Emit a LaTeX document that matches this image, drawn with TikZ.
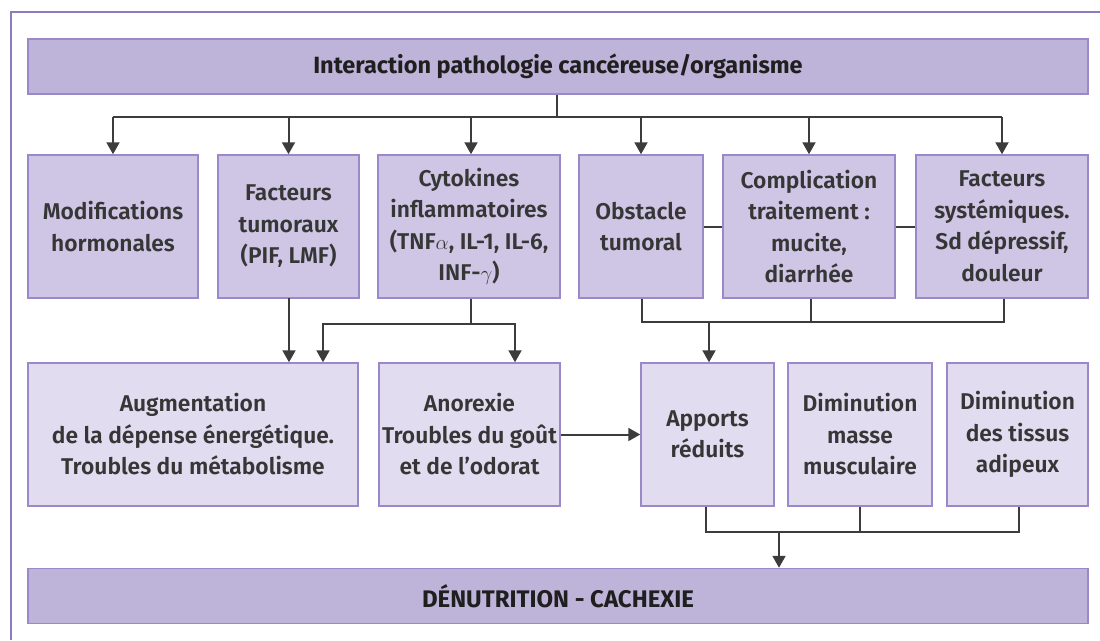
\documentclass[tikz,border=0pt]{standalone}
\usepackage{fontspec}
\setmainfont{Fira Sans}[BoldFont={Fira Sans SemiBold}]
\newfontfamily\headfont{Fira Sans Bold}
\usetikzlibrary{arrows.meta}
\definecolor{frameC}{HTML}{8C7BBF}
\definecolor{boxB}{HTML}{9A88C8}
\definecolor{headF}{HTML}{BEB3D8}
\definecolor{rowoneF}{HTML}{CEC6E4}
\definecolor{rowtwoF}{HTML}{E1DCEF}
\definecolor{txtC}{HTML}{363636}
\definecolor{lineC}{HTML}{3C3C3C}
\tikzset{
  box/.style={draw=boxB, line width=1.5pt, inner sep=0pt, align=center,
    text=txtC, font=\bfseries\fontsize{22.8}{31.5}\selectfont},
  headbox/.style={box, fill=headF, minimum width=1060pt, minimum height=55pt,
    font=\headfont\fontsize{23.5}{25}\selectfont, text=black!88},
  rowone/.style={box, fill=rowoneF, minimum height=143pt},
  rowtwo/.style={box, fill=rowtwoF, minimum height=143pt},
  con/.style={draw=lineC, line width=2pt},
  arr/.style={con, -{Triangle[width=13pt,length=12pt]}},
}
\begin{document}
\begin{tikzpicture}[x=1pt,y=-1pt]
\useasboundingbox (0,0) rectangle (1100,640);
\fill[white] (0,0) rectangle (1100,640);
\draw[frameC, line width=2pt] (10.5,640) -- (10.5,12) -- (1100,12);

% header
\node[headbox] (top) at (558,66.5) {Interaction pathologie cancéreuse/organisme};
\node[headbox, font=\headfont\fontsize{24}{25}\selectfont] (bot) at (558,596) {DÉNUTRITION - CACHEXIE};

% row 1
\node[rowone, minimum width=170pt] (m1) at (113,226.5) {Modifications\\hormonales};
\node[rowone, minimum width=141pt] (m2) at (288.5,226.5) {Facteurs\\tumoraux\\(PIF, LMF)};
\node[rowone, minimum width=182pt] (m3) at (469,226.5) {Cytokines\\inflammatoires\\(TNF$\alpha$, IL-1, IL-6,\\INF-$\gamma$)};
\node[rowone, minimum width=124pt] (m4) at (641,226.5) {Obstacle\\tumoral};
\node[rowone, minimum width=172pt] (m5) at (809,226.5) {Complication\\traitement :\\mucite,\\diarrhée};
\node[rowone, minimum width=172pt] (m6) at (1002,226.5) {Facteurs\\systémiques.\\Sd dépressif,\\douleur};

% row 2
\node[rowtwo, minimum width=330pt] (b1) at (193,434.5) {Augmentation\\de la dépense énergétique.\\Troubles du métabolisme};
\node[rowtwo, minimum width=181pt] (b2) at (469.5,434.5) {Anorexie\\Troubles du goût\\et de l’odorat};
\node[rowtwo, minimum width=133pt] (b3) at (707.5,434.5) {Apports\\réduits};
\node[rowtwo, minimum width=144pt] (b4) at (860,434.5) {Diminution\\masse\\musculaire};
\node[rowtwo, minimum width=141pt] (b5) at (1017.5,434.5) {Diminution\\des tissus\\adipeux};

% top distribution
\coordinate (hub) at (557,117);
\coordinate (h3) at (471,117);
\draw[con] (top.south -| hub) -- (hub);
\draw[con] (m1.north |- hub) -- (m6.north |- hub);
\draw[arr] (m1.north |- hub) -- (m1.north);
\draw[arr] (m2.north |- hub) -- (m2.north);
\draw[arr] (h3) -- (h3 |- m3.north);
\draw[arr] (m4.north |- hub) -- (m4.north);
\draw[arr] (m5.north |- hub) -- (m5.north);
\draw[arr] (m6.north |- hub) -- (m6.north);

% side links
\draw[con] (m4.east) -- (m5.west);
\draw[con] (m5.east) -- (m6.west);

% facteurs tumoraux -> augmentation
\coordinate (f2) at (289,298);
\draw[arr] (f2) -- (f2 |- b1.north);

% cytokines
\coordinate (c3) at (471,324);
\coordinate (cl) at (323,324);
\coordinate (cr) at (515,324);
\draw[con] (c3 |- m3.south) -- (c3);
\draw[arr] (c3) -- (cl) -- (cl |- b1.north);
\draw[arr] (c3) -- (cr) -- (cr |- b2.north);

% obstacle group
\coordinate (o4) at (642,322);
\coordinate (o5) at (811,322);
\coordinate (o6) at (1004,322);
\coordinate (oa) at (709,322);
\draw[con] (o4 |- m4.south) -- (o4) -- (o6) -- (o6 |- m6.south);
\draw[con] (o5 |- m5.south) -- (o5);
\draw[arr] (oa) -- (oa |- b3.north);

% anorexie -> apports
\draw[arr] (b2.east) -- (b3.west);

% bottom group
\coordinate (d3) at (706,532);
\coordinate (d4) at (860,532);
\coordinate (d5) at (1019,532);
\coordinate (da) at (779,532);
\draw[con] (d3 |- b3.south) -- (d3) -- (d5) -- (d5 |- b5.south);
\draw[con] (d4 |- b4.south) -- (d4);
\draw[arr] (da) -- (da |- bot.north);
\end{tikzpicture}
\end{document}
